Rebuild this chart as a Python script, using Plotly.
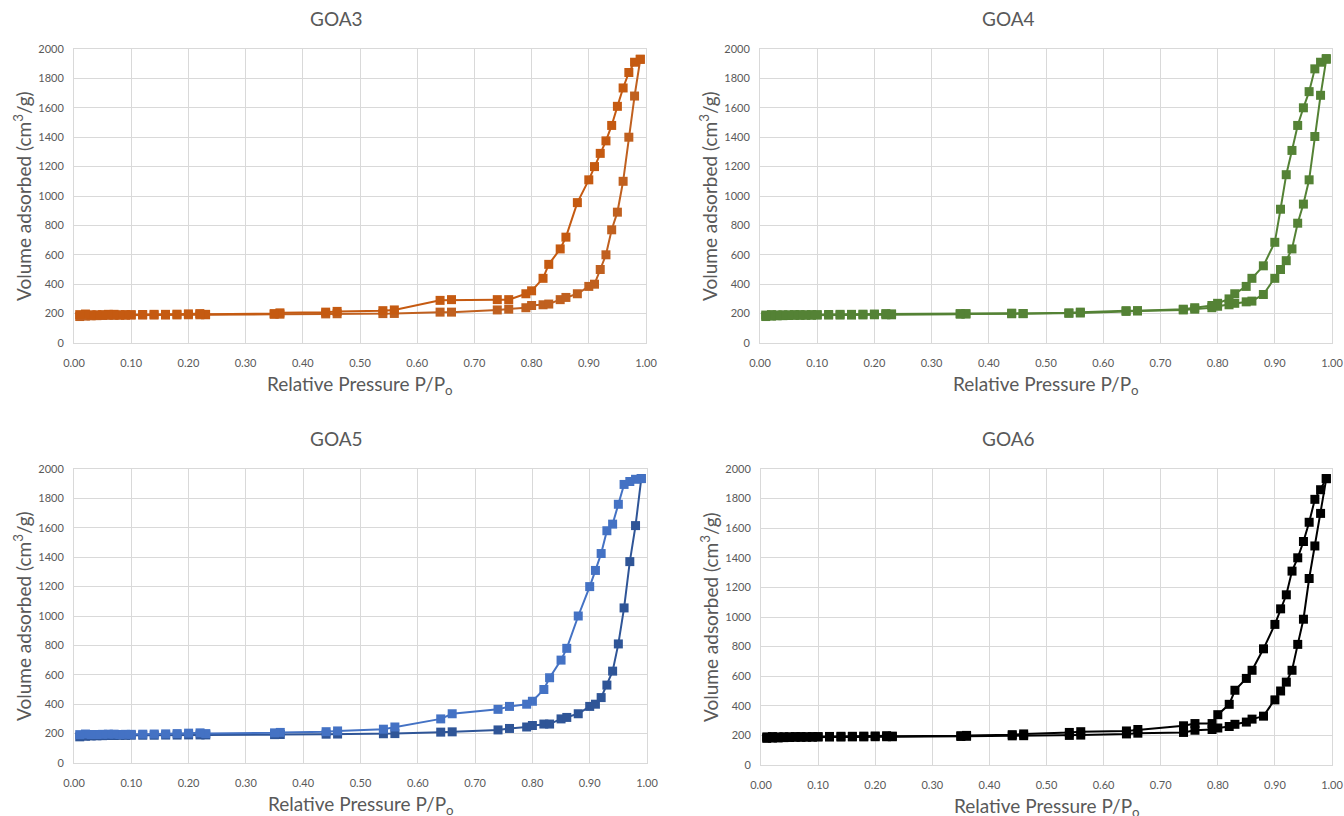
import plotly.graph_objects as go

# Relative pressure points (P/Po) for the adsorption and desorption branches
p_ads = [0.01, 0.02, 0.03, 0.04, 0.05, 0.06, 0.07, 0.08, 0.09, 0.10, 0.12, 0.14, 0.16,
         0.18, 0.20, 0.22, 0.23, 0.35, 0.36, 0.44, 0.46, 0.54, 0.56, 0.64, 0.66, 0.74,
         0.76, 0.79, 0.80, 0.82, 0.83, 0.85, 0.86, 0.88, 0.90, 0.91, 0.92, 0.93, 0.94,
         0.95, 0.96, 0.97, 0.98, 0.99]
p_des = [0.99, 0.98, 0.97, 0.96, 0.95, 0.94, 0.93, 0.92, 0.91, 0.90, 0.88, 0.86, 0.85,
         0.83, 0.82, 0.80, 0.79, 0.76, 0.74, 0.66, 0.64, 0.56, 0.54, 0.46, 0.44, 0.36,
         0.35, 0.23, 0.22, 0.20, 0.18, 0.16, 0.14, 0.12, 0.10, 0.09, 0.08, 0.07, 0.06,
         0.05, 0.04, 0.03, 0.02, 0.01]

# Volume adsorbed (cm3/g)
goa3_ads = [180, 183, 185, 186, 187, 188, 188, 189, 189, 190, 190, 190, 190,
            191, 192, 192, 192, 195, 196, 198, 199, 200, 201, 210, 210, 225,
            230, 240, 255, 260, 265, 295, 310, 335, 385, 400, 500, 600, 770,
            890, 1100, 1400, 1680, 1930]
goa3_des = [1930, 1910, 1840, 1735, 1610, 1480, 1375, 1290, 1200, 1110, 955, 720, 640,
            535, 440, 355, 335, 295, 295, 295, 290, 225, 220, 215, 210, 205,
            200, 195, 200, 198, 196, 195, 195, 194, 193, 193, 192, 195, 195,
            193, 192, 192, 197, 193]

goa4_ads = [180, 183, 185, 186, 187, 188, 188, 189, 189, 190, 190, 190, 190,
            191, 192, 192, 192, 196, 197, 199, 200, 202, 204, 215, 218, 225,
            230, 240, 250, 260, 270, 280, 285, 330, 440, 500, 560, 640, 815,
            945, 1110, 1405, 1685, 1930]
goa4_des = [1935, 1910, 1865, 1710, 1600, 1480, 1310, 1145, 910, 685, 525, 440, 385,
            335, 300, 270, 255, 240, 230, 220, 220, 210, 205, 200, 203, 200,
            200, 198, 200, 197, 196, 195, 195, 194, 193, 193, 192, 193, 193,
            192, 192, 191, 193, 190]

goa5_ads = [178, 182, 184, 185, 186, 187, 187, 188, 188, 189, 189, 189, 190,
            190, 191, 191, 191, 193, 194, 196, 197, 199, 200, 210, 212, 225,
            235, 245, 255, 265, 265, 300, 310, 335, 385, 400, 445, 530, 625,
            810, 1055, 1370, 1615, 1935]
goa5_des = [1935, 1930, 1915, 1895, 1760, 1625, 1580, 1425, 1310, 1200, 1000, 780, 700,
            580, 500, 420, 400, 385, 365, 335, 300, 245, 230, 218, 213, 208,
            205, 200, 205, 203, 200, 198, 197, 196, 195, 195, 194, 196, 196,
            195, 194, 194, 197, 193]

goa6_ads = [180, 182, 183, 185, 186, 187, 187, 188, 188, 189, 189, 189, 190,
            190, 191, 191, 191, 193, 194, 197, 198, 200, 202, 210, 215, 220,
            235, 240, 250, 260, 275, 290, 310, 330, 440, 500, 560, 640, 815,
            985, 1260, 1480, 1700, 1935]
goa6_des = [1935, 1860, 1795, 1640, 1510, 1400, 1310, 1150, 1055, 950, 785, 640, 585,
            505, 410, 340, 280, 280, 265, 240, 230, 225, 220, 210, 205, 200,
            198, 195, 198, 196, 195, 194, 194, 193, 192, 192, 191, 192, 192,
            191, 191, 190, 192, 190]

samples = ["GOA3", "GOA4", "GOA5", "GOA6"]
ads_sets = [goa3_ads, goa4_ads, goa5_ads, goa6_ads]
des_sets = [goa3_des, goa4_des, goa5_des, goa6_des]
ads_colors = ["#C0601F", "#548235", "#2F5597", "#000000"]
des_colors = ["#C55A11", "#548235", "#4472C4", "#000000"]

x_ticks = [i / 10 for i in range(11)]
y_ticks = list(range(0, 2001, 200))

W, H = 1344, 816
# plot-area boxes in pixels: (left, right, top, bottom)
boxes = [(74, 646, 49, 343), (760, 1332, 49, 343),
         (74, 647, 469, 763), (761, 1332, 469, 765)]
# panel centers for titles
panel_cx = [336, 1008, 336, 1008]
title_y = [18, 18, 438, 438]

FONT = "Lato, 'Open Sans', sans-serif"
GRAY = "#595959"
GRID = "#D9D9D9"

fig = go.Figure()
layout = dict(width=W, height=H, margin=dict(l=0, r=0, t=0, b=0, autoexpand=False),
              paper_bgcolor="white", plot_bgcolor="white", showlegend=False,
              font=dict(family=FONT, color=GRAY))
annotations = []

for i, name in enumerate(samples):
    k = "" if i == 0 else str(i + 1)
    xa, ya = "x" + k, "y" + k
    l, r, t, b = boxes[i]
    fig.add_trace(go.Scatter(x=p_ads, y=ads_sets[i], xaxis=xa, yaxis=ya,
                             mode="lines+markers", name=name + " adsorption",
                             line=dict(color=ads_colors[i], width=2),
                             marker=dict(symbol="square", size=9, color=ads_colors[i])))
    fig.add_trace(go.Scatter(x=p_des, y=des_sets[i], xaxis=xa, yaxis=ya,
                             mode="lines+markers", name=name + " desorption",
                             line=dict(color=des_colors[i], width=2),
                             marker=dict(symbol="square", size=9, color=des_colors[i])))
    layout["xaxis" + k] = dict(domain=[l / W, r / W], anchor=ya, range=[0, 1],
                               tickvals=x_ticks, tickformat=".2f", automargin=False,
                               showgrid=True, gridcolor=GRID, gridwidth=1,
                               showline=True, linecolor=GRID, linewidth=1, mirror=True,
                               zeroline=False, ticks="", ticklabelstandoff=10,
                               tickfont=dict(family=FONT, size=11, color=GRAY))
    layout["yaxis" + k] = dict(domain=[1 - b / H, 1 - t / H], anchor=xa, range=[0, 2000],
                               tickvals=y_ticks, automargin=False,
                               showgrid=True, gridcolor=GRID, gridwidth=1,
                               showline=True, linecolor=GRID, linewidth=1, mirror=True,
                               zeroline=False, ticks="", ticklabelstandoff=7,
                               tickfont=dict(family=FONT, size=11, color=GRAY))
    annotations.append(dict(text=name, x=panel_cx[i] / W, y=1 - title_y[i] / H,
                            xref="paper", yref="paper", showarrow=False,
                            xanchor="center", yanchor="middle",
                            font=dict(family=FONT, size=19, color=GRAY)))
    annotations.append(dict(text="Relative Pressure P/P<sub>o</sub>",
                            x=(l + r) / 2 / W, y=1 - (b + 42) / H,
                            xref="paper", yref="paper", showarrow=False,
                            xanchor="center", yanchor="middle",
                            font=dict(family=FONT, size=19, color=GRAY)))
    annotations.append(dict(text="Volume adsorbed (cm<sup>3</sup>/g)",
                            x=(l - 52) / W, y=1 - (t + b) / 2 / H,
                            xref="paper", yref="paper", showarrow=False,
                            textangle=-90, xanchor="center", yanchor="middle",
                            font=dict(family=FONT, size=19, color=GRAY)))

layout["annotations"] = annotations
fig.update_layout(**layout)
fig.write_html("out.html")
